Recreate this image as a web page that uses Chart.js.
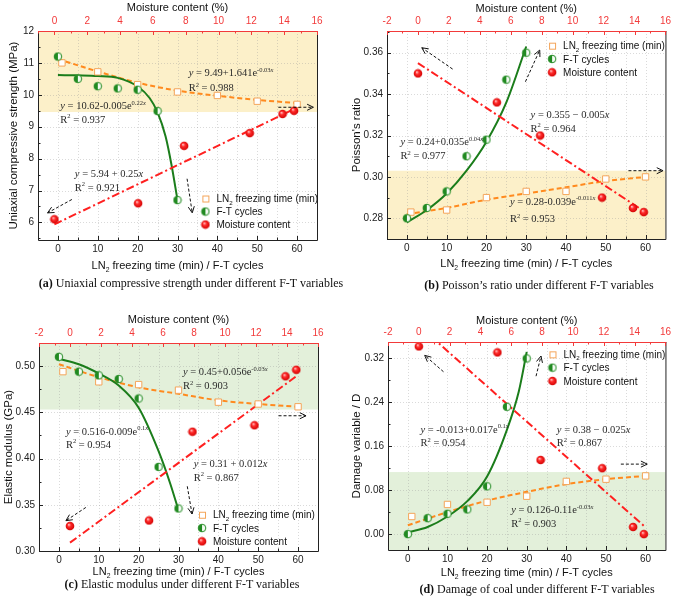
<!DOCTYPE html>
<html>
<head>
<meta charset="utf-8">
<script src="https://cdn.jsdelivr.net/npm/chart.js@4.4.0/dist/chart.umd.min.js"></script>
<style>
html, body { margin: 0; padding: 0; background: #fff; }
#wrap { position: relative; width: 675px; height: 599px; overflow: hidden; }
#wrap canvas { position: absolute; }
.cap { position: absolute; font-family: "Liberation Serif", "Times New Roman", serif; font-size: 12px;
       white-space: nowrap; transform: translate(-50%, -50%); color: #111; line-height: 13px; }
</style>
</head>
<body>
<div id="wrap">
  <canvas id="ca" width="337" height="300" style="left:0;top:0"></canvas>
  <canvas id="cb" width="338" height="300" style="left:337px;top:0"></canvas>
  <canvas id="cc" width="337" height="299" style="left:0;top:300px"></canvas>
  <canvas id="cd" width="338" height="299" style="left:337px;top:300px"></canvas>
  <div class="cap" style="left:191px;top:283px"><b>(a)</b> Uniaxial compressive strength under different F-T variables</div>
  <div class="cap" style="left:539px;top:285px"><b>(b)</b> Poisson’s ratio under different F-T variables</div>
  <div class="cap" style="left:182px;top:584px"><b>(c)</b> Elastic modulus under different F-T variables</div>
  <div class="cap" style="left:537px;top:589px"><b>(d)</b> Damage of coal under different F-T variables</div>
</div>
<script>
// shared x values
const ln2Time = [1, 10, 20, 30, 40, 50, 60];
const ftCycles = [0, 5, 10, 15, 20, 25, 30];
const moisture = [0, 5.1, 7.9, 11.9, 13.9, 14.6];
const fitLn2X = [0, 10, 20, 30, 40, 50, 60];

// tick labels
const ftTicks = [0, 10, 20, 30, 40, 50, 60];
const mcTicks = [-2, 0, 2, 4, 6, 8, 10, 12, 14, 16];
const ucsTicks = [6, 7, 8, 9, 10, 11, 12];
const prTicks = [0.28, 0.30, 0.32, 0.34, 0.36];
const emTicks = [0.30, 0.35, 0.40, 0.45, 0.50];
const dTicks = [0, 0.08, 0.16, 0.24, 0.32];

// (a) uniaxial compressive strength
const ucsLn2 = [11.0, 10.72, 10.32, 10.09, 9.98, 9.80, 9.70];
const ucsFt = [11.2, 10.5, 10.27, 10.2, 10.16, 9.49, 6.7];
const ucsMc = [6.1, 6.6, 8.4, 8.8, 9.4, 9.5];
const ucsFitLn2 = [11.12, 10.73, 10.38, 10.13, 9.97, 9.84, 9.74];
const ucsFitFtX = [0, 5, 10, 15, 20, 23, 25, 27, 28.5, 30];
const ucsFitFt = [10.62, 10.61, 10.59, 10.53, 10.26, 9.9, 9.45, 8.7, 7.8, 6.7];
const ucsFitMcX = [0, 14.8];
const ucsFitMc = [5.94, 9.6];

// (b) Poisson's ratio
const prLn2 = [0.283, 0.284, 0.290, 0.293, 0.293, 0.299, 0.300];
const prFt = [0.280, 0.285, 0.293, 0.310, 0.318, 0.347, 0.360];
const prMc = [0.350, 0.336, 0.320, 0.290, 0.285, 0.283];
const prFitLn2 = [0.282, 0.285, 0.289, 0.292, 0.295, 0.298, 0.300];
const prFitFtX = [0, 5, 10, 15, 20, 25, 30];
const prFitFt = [0.278, 0.284, 0.292, 0.303, 0.317, 0.336, 0.363];
const prFitMcX = [0, 14.7];
const prFitMc = [0.355, 0.283];

// (c) elastic modulus
const emLn2 = [0.494, 0.483, 0.480, 0.474, 0.461, 0.459, 0.456];
const emFt = [0.510, 0.494, 0.490, 0.486, 0.465, 0.391, 0.346];
const emMc = [0.327, 0.333, 0.429, 0.436, 0.489, 0.496];
const emFitLn2 = [0.502, 0.488, 0.477, 0.470, 0.463, 0.459, 0.456];
const emFitFtX = [0, 5, 10, 15, 20, 25, 28, 30];
const emFitFt = [0.508, 0.502, 0.492, 0.479, 0.455, 0.408, 0.372, 0.344];
const emFitMcX = [0, 14.6];
const emFitMc = [0.309, 0.489];

// (d) damage variable
const dLn2 = [0.032, 0.054, 0.058, 0.069, 0.096, 0.100, 0.106];
const dFt = [0, 0.029, 0.037, 0.045, 0.087, 0.232, 0.320];
const dMc = [0.342, 0.331, 0.135, 0.120, 0.013, 0.000];
const dFitLn2 = [0.016, 0.040, 0.061, 0.077, 0.091, 0.100, 0.106];
const dFitFtX = [0, 5, 10, 15, 20, 25, 28, 30];
const dFitFt = [0.003, 0.013, 0.032, 0.060, 0.105, 0.190, 0.260, 0.332];
const dFitMcX = [0, 14.6];
const dFitMc = [0.38, 0.015];

const SANS = '"Liberation Sans", Arial, sans-serif';
const SERIF = '"Liberation Serif", "Times New Roman", serif';
const ORANGE = '#ff8a1e';
const SQUARE = '#f4a55a';
const GREEN = '#1b7d1b';
const RED = '#ff2020';
const TOPRED = '#f23a3a';

Chart.defaults.font.family = SANS;

const pts = (xs, ys) => xs.map((x, i) => ({ x: x, y: ys[i] }));

function makeBall(kind) {
  const c = document.createElement('canvas');
  c.width = 10; c.height = 10;
  const g = c.getContext('2d');
  if (kind === 'ft') {
    g.beginPath(); g.arc(5, 5, 3.8, 0, Math.PI * 2); g.fillStyle = '#f4fbf4'; g.fill();
    g.beginPath(); g.moveTo(5, 5); g.arc(5, 5, 3.8, Math.PI / 2, Math.PI * 1.5); g.closePath();
    g.fillStyle = '#218a21'; g.fill();
    g.beginPath(); g.arc(5, 5, 3.8, 0, Math.PI * 2); g.strokeStyle = '#218a21'; g.lineWidth = 1; g.stroke();
  } else {
    const gr = g.createRadialGradient(3.8, 3.6, 0.3, 5, 5, 4.6);
    gr.addColorStop(0, '#ffc0c0'); gr.addColorStop(0.35, '#ff2a2a'); gr.addColorStop(1, '#d00000');
    g.beginPath(); g.arc(5, 5, 4.3, 0, Math.PI * 2); g.fillStyle = gr; g.fill();
  }
  return c;
}
const ftBall = makeBall('ft');
const mcBall = makeBall('mc');

function rich(ctx, segs, x, y, size, family, align) {
  const items = segs.map(([t, st]) => {
    const small = st.includes('^') || st.includes('_');
    const fs = small ? size * 0.62 : size;
    const font = (st.includes('i') ? 'italic ' : '') + fs + 'px ' + family;
    ctx.font = font;
    return { t: t, font: font, w: ctx.measureText(t).width,
             dy: st.includes('^') ? -size * 0.42 : (st.includes('_') ? size * 0.25 : 0) };
  });
  const total = items.reduce((s, it) => s + it.w, 0);
  let cx = align === 'center' ? x - total / 2 : x;
  ctx.textAlign = 'left';
  ctx.textBaseline = 'alphabetic';
  const base = y + size * 0.36;
  items.forEach(it => { ctx.font = it.font; ctx.fillText(it.t, cx, base + it.dy); cx += it.w; });
}

function arrow(ctx, x1, y1, x2, y2) {
  const ang = Math.atan2(y2 - y1, x2 - x1);
  ctx.save();
  ctx.strokeStyle = '#111';
  ctx.lineWidth = 1;
  ctx.setLineDash([3, 2]);
  ctx.beginPath(); ctx.moveTo(x1, y1); ctx.lineTo(x2, y2); ctx.stroke();
  ctx.setLineDash([]);
  ctx.beginPath();
  ctx.moveTo(x2 - 7 * Math.cos(ang - 0.45), y2 - 7 * Math.sin(ang - 0.45));
  ctx.lineTo(x2, y2);
  ctx.lineTo(x2 - 7 * Math.cos(ang + 0.45), y2 - 7 * Math.sin(ang + 0.45));
  ctx.stroke();
  ctx.restore();
}

const r2 = v => [['R', ''], ['2', '^'], [' = ' + v, '']];

const panels = [
  { id: 'ca', area: { l: 38, t: 31, r: 317, b: 240 }, mcMin: -1,
    yMin: 5.45, yMax: 12, yTicks: ucsTicks, yDec: 0, yMinor: 0.5,
    band: [9.46, 12], bandColor: '#fcf0c9',
    ln2: ucsLn2, ft: ucsFt, mc: ucsMc, fitLn2: ucsFitLn2,
    fitFtX: ucsFitFtX, fitFt: ucsFitFt, fitMcX: ucsFitMcX, fitMc: ucsFitMc,
    yTitle: 'Uniaxial compressive strength (MPa)', yTitleX: 12.5, topTitleY: 7, botTitleY: 265,
    arrows: [[55.3, 9.61, 64.1, 9.61], [3.5, 6.72, -2.6, 6.30], [32.4, 7.37, 33.7, 6.30]],
    texts: [
      { x: 32.8, y: 10.71, segs: [['y', 'i'], [' = 9.49+1.641e', ''], ['-0.03', '^'], ['x', '^i']] },
      { x: 32.8, y: 10.24, segs: r2('0.988') },
      { x: 0.6, y: 9.66, segs: [['y', 'i'], [' = 10.62-0.005e', ''], ['0.22', '^'], ['x', '^i']] },
      { x: 0.6, y: 9.25, segs: r2('0.937') },
      { x: 4.25, y: 7.53, segs: [['y', 'i'], [' = 5.94 + 0.25', ''], ['x', 'i']] },
      { x: 4.25, y: 7.11, segs: r2('0.921') }
    ],
    legend: { x: 37.0, y: 6.75, gap: 13 } },
  { id: 'cb', area: { l: 50, t: 31, r: 330, b: 239 }, mcMin: -2,
    yMin: 0.27, yMax: 0.3705, yTicks: prTicks, yDec: 2, yMinor: 0.01,
    band: [0.27, 0.303], bandColor: '#fcf0c9',
    ln2: prLn2, ft: prFt, mc: prMc, fitLn2: prFitLn2,
    fitFtX: prFitFtX, fitFt: prFitFt, fitMcX: prFitMcX, fitMc: prFitMc,
    yTitle: "Poisson's ratio", yTitleX: 18.7, topTitleY: 8.5, botTitleY: 263,
    arrows: [[11.5, 0.3521, 3.75, 0.3624], [29.8, 0.346, 33.4, 0.3613], [55.7, 0.303, 64.4, 0.303]],
    texts: [
      { x: -1.6, y: 0.3172, segs: [['y', 'i'], [' = 0.24+0.035e', ''], ['0.04', '^'], ['x', '^i']] },
      { x: -1.6, y: 0.3105, segs: r2('0.977') },
      { x: 31.1, y: 0.3303, segs: [['y', 'i'], [' = 0.355 \u2212 0.005', ''], ['x', 'i']] },
      { x: 31.1, y: 0.3236, segs: r2('0.964') },
      { x: 25.9, y: 0.2883, segs: [['y', 'i'], [' = 0.28-0.039e', ''], ['-0.011', '^'], ['x', '^i']] },
      { x: 25.9, y: 0.2800, segs: r2('0.953') }
    ],
    legend: { x: 36.5, y: 0.3634, gap: 13.3 } },
  { id: 'cc', area: { l: 39, t: 43, r: 318, b: 251 }, mcMin: -2,
    yMin: 0.30, yMax: 0.525, yTicks: emTicks, yDec: 2, yMinor: 0.025,
    band: [0.453, 0.525], bandColor: '#e3f0da',
    ln2: emLn2, ft: emFt, mc: emMc, fitLn2: emFitLn2,
    fitFtX: emFitFtX, fitFt: emFitFt, fitMcX: emFitMcX, fitMc: emFitMc,
    yTitle: 'Elastic modulus (GPa)', yTitleX: 8, topTitleY: 19.5, botTitleY: 271,
    arrows: [[55.1, 0.4463, 62, 0.4463], [6.75, 0.3471, 1.75, 0.3328], [32.2, 0.370, 33.4, 0.340]],
    texts: [
      { x: 31.1, y: 0.4942, segs: [['y', 'i'], [' = 0.45+0.056e', ''], ['-0.03', '^'], ['x', '^i']] },
      { x: 31.1, y: 0.4794, segs: r2('0.903') },
      { x: 1.75, y: 0.430, segs: [['y', 'i'], [' = 0.516-0.009e', ''], ['0.1', '^'], ['x', '^i']] },
      { x: 1.75, y: 0.4157, segs: r2('0.954') },
      { x: 33.8, y: 0.395, segs: [['y', 'i'], [' = 0.31 + 0.012', ''], ['x', 'i']] },
      { x: 33.8, y: 0.3803, segs: r2('0.867') }
    ],
    legend: { x: 35.9, y: 0.3392, gap: 13.3 } },
  { id: 'cd', area: { l: 51, t: 42, r: 331, b: 250 }, mcMin: -2,
    yMin: -0.029, yMax: 0.35, yTicks: dTicks, yDec: 2, yMinor: 0.04,
    band: [-0.029, 0.113], bandColor: '#e3f0da',
    ln2: dLn2, ft: dFt, mc: dMc, fitLn2: dFitLn2,
    fitFtX: dFitFtX, fitFt: dFitFt, fitMcX: dFitMcX, fitMc: dFitMc,
    yTitle: 'Damage variable / D', yTitleX: 18.7, topTitleY: 20, botTitleY: 272.5,
    arrows: [[9, 0.2958, 4.25, 0.3257], [32.35, 0.2877, 33.6, 0.3244], [53.75, 0.1275, 60.4, 0.1275]],
    texts: [
      { x: 3.2, y: 0.1917, segs: [['y', 'i'], [' = -0.013+0.017e', ''], ['0.1', '^'], ['x', '^i']] },
      { x: 3.2, y: 0.1673, segs: r2('0.954') },
      { x: 37.6, y: 0.1917, segs: [['y', 'i'], [' = 0.38 \u2212 0.025', ''], ['x', 'i']] },
      { x: 37.6, y: 0.1673, segs: r2('0.867') },
      { x: 26.1, y: 0.045, segs: [['y', 'i'], [' = 0.126-0.11e', ''], ['-0.03', '^'], ['x', '^i']] },
      { x: 26.1, y: 0.0205, segs: r2('0.903') }
    ],
    legend: { x: 36.5, y: 0.3275, gap: 13.3 } }
];

function steps(from, to, step) {
  const out = [];
  const n = Math.round((to - from) / step);
  for (let i = 0; i <= n; i++) out.push(+(from + i * step).toFixed(6));
  return out;
}

function decoPlugin(P) {
  return {
    id: 'deco',
    beforeDraw(chart) {
      const { ctx, chartArea: a, scales: { x, y } } = chart;
      ctx.save();
      const yb1 = Math.min(a.bottom, Math.max(a.top, y.getPixelForValue(P.band[0])));
      const yb2 = Math.min(a.bottom, Math.max(a.top, y.getPixelForValue(P.band[1])));
      ctx.fillStyle = P.bandColor;
      ctx.fillRect(a.left, Math.min(yb1, yb2), a.right - a.left, Math.abs(yb2 - yb1));
      // faint dotted grid
      ctx.strokeStyle = 'rgba(150,150,150,0.45)';
      ctx.lineWidth = 0.8;
      ctx.setLineDash([1, 2]);
      steps(0, 60, 5).forEach(v => {
        const px = Math.round(x.getPixelForValue(v)) + 0.5;
        ctx.beginPath(); ctx.moveTo(px, a.top); ctx.lineTo(px, a.bottom); ctx.stroke();
      });
      P.yTicks.forEach(v => {
        const py = Math.round(y.getPixelForValue(v)) + 0.5;
        ctx.beginPath(); ctx.moveTo(a.left, py); ctx.lineTo(a.right, py); ctx.stroke();
      });
      ctx.restore();
    },
    afterDraw(chart) {
      const { ctx, chartArea: a, scales: { x, y, xm } } = chart;
      ctx.save();
      ctx.setLineDash([]);
      ctx.lineWidth = 1;
      // frame
      ctx.strokeStyle = '#222';
      ctx.beginPath();
      ctx.moveTo(a.left + 0.5, a.top); ctx.lineTo(a.left + 0.5, a.bottom + 0.5);
      ctx.lineTo(a.right + 0.5, a.bottom + 0.5); ctx.lineTo(a.right + 0.5, a.top);
      ctx.stroke();
      // inward ticks: bottom and left
      steps(0, 60, 5).forEach((v, i) => {
        const px = Math.round(x.getPixelForValue(v)) + 0.5;
        const len = i % 2 === 0 ? 4 : 2.5;
        ctx.beginPath(); ctx.moveTo(px, a.bottom); ctx.lineTo(px, a.bottom - len); ctx.stroke();
      });
      const y0 = P.yTicks[0] - Math.floor((P.yTicks[0] - P.yMin) / P.yMinor) * P.yMinor;
      steps(y0, P.yMax, P.yMinor).forEach(v => {
        if (v < P.yMin - 1e-9 || v > P.yMax + 1e-9) return;
        const major = P.yTicks.some(t => Math.abs(t - v) < 1e-6);
        const py = Math.round(y.getPixelForValue(v)) + 0.5;
        ctx.beginPath(); ctx.moveTo(a.left, py); ctx.lineTo(a.left + (major ? 4 : 2.5), py); ctx.stroke();
      });
      // top red axis
      ctx.strokeStyle = TOPRED;
      ctx.beginPath(); ctx.moveTo(a.left, a.top + 0.5); ctx.lineTo(a.right + 1, a.top + 0.5); ctx.stroke();
      steps(-2, 16, 1).forEach(v => {
        if (v < P.mcMin) return;
        const px = Math.round(xm.getPixelForValue(v)) + 0.5;
        const len = v % 2 === 0 ? 4 : 2.5;
        ctx.beginPath(); ctx.moveTo(px, a.top); ctx.lineTo(px, a.top + len); ctx.stroke();
      });
      // arrows
      P.arrows.forEach(r => arrow(ctx, x.getPixelForValue(r[0]), y.getPixelForValue(r[1]),
                                       x.getPixelForValue(r[2]), y.getPixelForValue(r[3])));
      // fit equations
      ctx.fillStyle = '#2a2a2a';
      P.texts.forEach(t => rich(ctx, t.segs, x.getPixelForValue(t.x), y.getPixelForValue(t.y), 10.5, SERIF, 'left'));
      // legend
      const lx = x.getPixelForValue(P.legend.x);
      const ly = y.getPixelForValue(P.legend.y);
      const g = P.legend.gap;
      ctx.fillStyle = '#fff';
      ctx.fillRect(lx - 3, ly - 3, 6, 6);
      ctx.strokeStyle = SQUARE;
      ctx.strokeRect(lx - 3 + 0.5, ly - 3 + 0.5, 6, 6);
      ctx.drawImage(ftBall, lx - 5, ly + g - 5);
      ctx.drawImage(mcBall, lx - 5, ly + 2 * g - 5);
      ctx.fillStyle = '#111';
      rich(ctx, [['LN', ''], ['2', '_'], [' freezing time (min)', '']], lx + 11, ly, 10, SANS, 'left');
      rich(ctx, [['F-T cycles', '']], lx + 11, ly + g, 10, SANS, 'left');
      rich(ctx, [['Moisture content', '']], lx + 11, ly + 2 * g, 10, SANS, 'left');
      // axis titles
      const cx = (a.left + a.right) / 2;
      rich(ctx, [['LN', ''], ['2', '_'], [' freezing time (min) / F-T cycles', '']], cx, P.botTitleY, 11, SANS, 'center');
      rich(ctx, [['Moisture content (%)', '']], cx, P.topTitleY, 11, SANS, 'center');
      ctx.translate(P.yTitleX, (a.top + a.bottom) / 2);
      ctx.rotate(-Math.PI / 2);
      rich(ctx, [[P.yTitle, '']], 0, 0, 11.5, SANS, 'center');
      ctx.restore();
    }
  };
}

panels.forEach(P => {
  const cv = document.getElementById(P.id);
  const W = cv.width, H = cv.height, A = P.area;
  const fixTicks = list => scale => {
    scale.ticks = list.filter(v => v >= scale.min - 1e-9 && v <= scale.max + 1e-9).map(v => ({ value: v }));
  };
  new Chart(cv.getContext('2d'), {
    type: 'scatter',
    data: {
      datasets: [
        { data: pts(moisture, P.mc), xAxisID: 'xm', pointStyle: mcBall, pointRadius: 4.5 },
        { data: pts(ftCycles, P.ft), xAxisID: 'x', pointStyle: ftBall, pointRadius: 4.5 },
        { data: pts(ln2Time, P.ln2), xAxisID: 'x', pointStyle: 'rect', pointRadius: 4.5,
          backgroundColor: '#fff', borderColor: SQUARE, borderWidth: 1 },
        { data: pts(P.fitMcX, P.fitMc), xAxisID: 'xm', showLine: true, pointRadius: 0,
          borderColor: RED, borderWidth: 2, borderDash: [8, 3, 2, 3] },
        { data: pts(P.fitFtX, P.fitFt), xAxisID: 'x', showLine: true, pointRadius: 0,
          borderColor: GREEN, borderWidth: 2, cubicInterpolationMode: 'monotone' },
        { data: pts(fitLn2X, P.fitLn2), xAxisID: 'x', showLine: true, pointRadius: 0,
          borderColor: ORANGE, borderWidth: 2, borderDash: [5, 3], cubicInterpolationMode: 'monotone' }
      ]
    },
    options: {
      responsive: false,
      animation: false,
      devicePixelRatio: 1,
      events: [],
      layout: { padding: { left: 0, top: 0, bottom: 0, right: W - A.r } },
      plugins: { legend: { display: false }, tooltip: { enabled: false } },
      scales: {
        x: {
          type: 'linear', position: 'bottom', min: -5, max: 65,
          afterBuildTicks: fixTicks(ftTicks),
          afterFit: s => { s.height = H - A.b; },
          grid: { display: false, drawTicks: false }, border: { display: false },
          ticks: { autoSkip: false, maxRotation: 0, padding: 3, color: '#222', font: { size: 10 },
                   callback: v => String(v) }
        },
        xm: {
          type: 'linear', position: 'top', min: P.mcMin, max: 16,
          afterBuildTicks: fixTicks(mcTicks),
          afterFit: s => { s.height = A.t; },
          grid: { display: false, drawTicks: false }, border: { display: false },
          ticks: { autoSkip: false, maxRotation: 0, padding: 4, color: TOPRED, font: { size: 10 },
                   callback: v => String(v) }
        },
        y: {
          type: 'linear', position: 'left', min: P.yMin, max: P.yMax,
          afterBuildTicks: fixTicks(P.yTicks),
          afterFit: s => { s.width = A.l; },
          grid: { display: false, drawTicks: false }, border: { display: false },
          ticks: { autoSkip: false, padding: 4, color: '#222', font: { size: 10 },
                   callback: v => Number(v).toFixed(P.yDec) }
        }
      }
    },
    plugins: [decoPlugin(P)]
  });
});
</script>
</body>
</html>
